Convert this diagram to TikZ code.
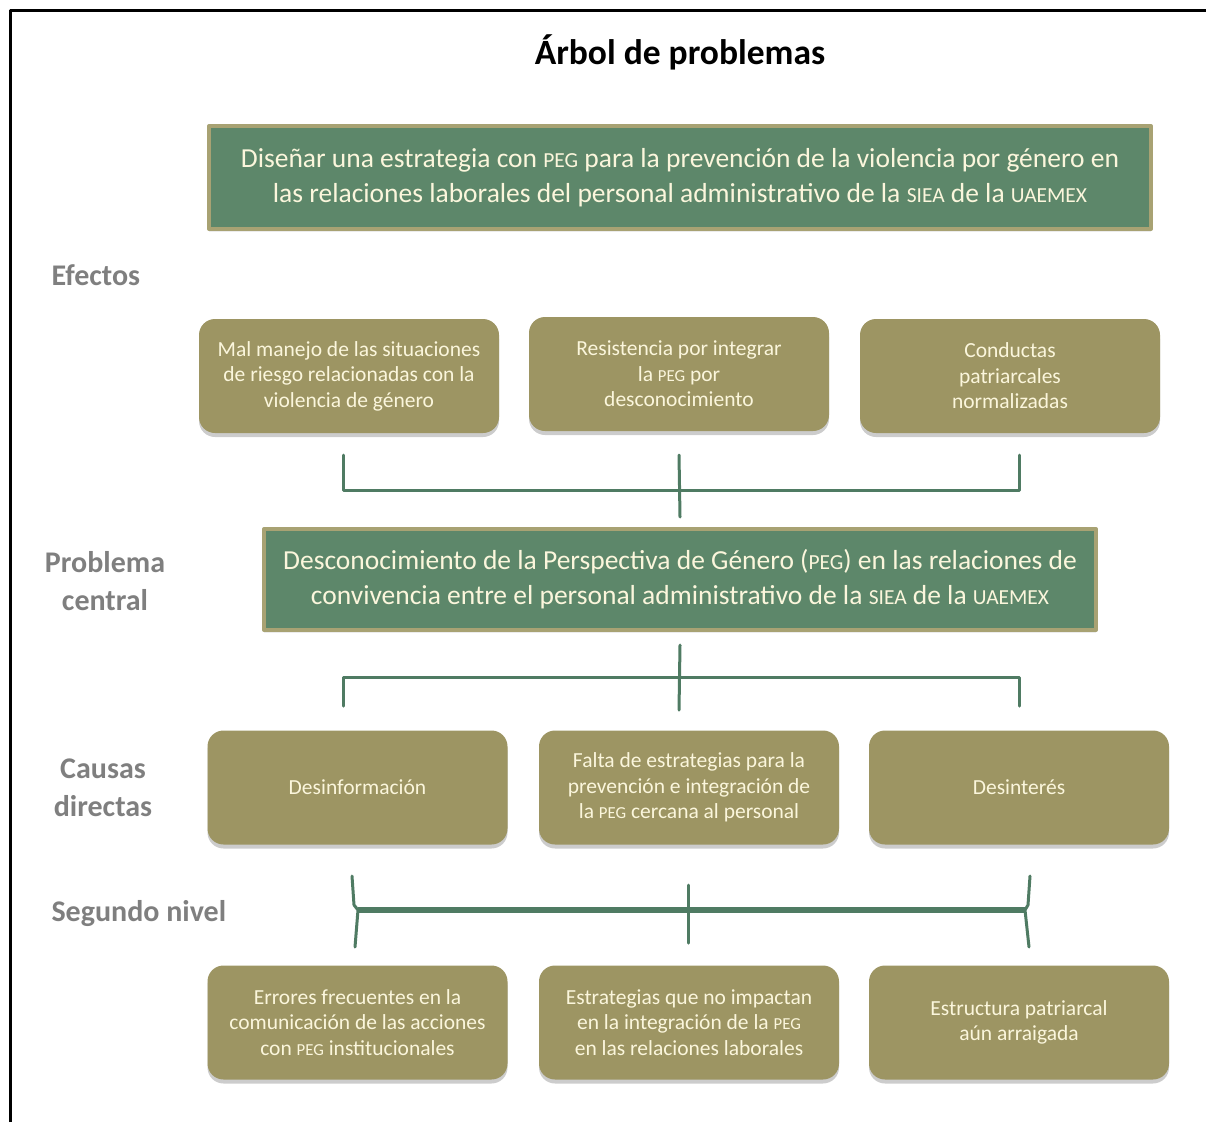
\documentclass[tikz,border=0pt]{standalone}
\usepackage{fontspec}
\setmainfont{Carlito}
\usetikzlibrary{shadows}
\definecolor{verde}{HTML}{5D876A}
\definecolor{oliva}{HTML}{9D9563}
\definecolor{borde}{HTML}{A8A273}
\definecolor{crema}{HTML}{FBF6DC}
\definecolor{gris}{HTML}{7F7F7F}
\definecolor{verderama}{HTML}{4F7B63}
\newcommand\pc[1]{\scalebox{.78}{#1}}
\begin{document}
\begin{tikzpicture}[x=1pt,y=-1pt, line join=round, line cap=round,
	meta/.style={draw=borde, line width=4pt, fill=verde, text=crema, align=center,
		font=\fontsize{27.5}{35}\selectfont, drop shadow={shadow xshift=0pt, shadow yshift=-3pt, opacity=.15}},
	caja/.style={rounded corners=16pt, fill=oliva, text=crema, align=center,
		minimum width=300pt, minimum height=114pt, font=\fontsize{21.5}{25.5}\selectfont,
		drop shadow={shadow xshift=0pt, shadow yshift=-4pt, opacity=.4}},
	etiq/.style={text=gris, font=\fontsize{30}{38}\bfseries\selectfont, align=center},
	rama/.style={draw=verderama, line width=3pt}]
	\useasboundingbox (0,0) rectangle (1206,1122);
	\draw[line width=3pt, line cap=butt] (10,1122) -- (10,10) -- (1206,10); % marco
	\node[font=\fontsize{35.5}{40}\bfseries\selectfont] (titulo) at (680,52) {Árbol de problemas};
	% objetivo
	\node[meta, minimum width=942pt, minimum height=103pt] (obj) at (680,177.5)
		{Diseñar una estrategia con \pc{PEG} para la prevención de la violencia por género en\\
		las relaciones laborales del personal administrativo de la \pc{SIEA} de la \pc{UAEMEX}};
	% etiquetas
	\node[etiq, anchor=west] (lef) at (48,275) {Efectos};
	\node[etiq] (lpc) at (105,581) {Problema\\central};
	\node[etiq] (lcd) at (103,787.5) {Causas\\directas};
	\node[etiq, anchor=west] (lsn) at (48,913) {Segundo nivel};
	% efectos
	\node[caja] (e1) at (349,376) {Mal manejo de las situaciones\\de riesgo relacionadas con la\\violencia de género};
	\node[caja] (e2) at (679,374) {Resistencia por integrar\\la \pc{PEG} por\\desconocimiento};
	\node[caja] (e3) at (1010,376) {Conductas\\patriarcales\\normalizadas};
	% problema central
	\node[meta, minimum width=832pt, minimum height=101pt] (pc) at (680,579.5)
		{Desconocimiento de la Perspectiva de Género (\pc{PEG}) en las relaciones de\\
		convivencia entre el personal administrativo de la \pc{SIEA} de la \pc{UAEMEX}};
	% causas directas
	\node[caja] (c1) at (357.5,787.5) {Desinformación};
	\node[caja] (c2) at (689,787.5) {Falta de estrategias para la\\prevención e integración de\\la \pc{PEG} cercana al personal};
	\node[caja] (c3) at (1019,787.5) {Desinterés};
	% segundo nivel
	\node[caja] (s1) at (357.5,1022.5) {Errores frecuentes en la\\comunicación de las acciones\\con \pc{PEG} institucionales};
	\node[caja] (s2) at (689,1022.5) {Estrategias que no impactan\\en la integración de la \pc{PEG}\\en las relaciones laborales};
	\node[caja] (s3) at (1019,1022.5) {Estructura patriarcal\\aún arraigada};
	% ramas
	\coordinate (r1) at (343,455);
	\coordinate (r3) at (1019,455);
	\draw[rama] (r1) |- (679,490) -| (r3);
	\draw[rama] (e2.south |- r1) -- ([yshift=10pt]pc.north);
	\coordinate (q1) at (343,706);
	\coordinate (q3) at (1019,706);
	\draw[rama] (q1) |- (679,677) -| (q3);
	\draw[rama] ([yshift=-13pt]pc.south) -- (679,710);
	\coordinate (t1) at (352,876);
	\coordinate (t3) at (1030,876);
	\draw[rama] (t1) -- (354,905) -- (358,910) -- (355,947);
	\draw[rama] (t3) -- (1028,905) -- (1025,910) -- (1029,947);
	\draw[rama, line width=6pt, line cap=butt] (358,910) -- (1025,910);
	\draw[rama] (688,885) -- (688,943);
\end{tikzpicture}
\end{document}
